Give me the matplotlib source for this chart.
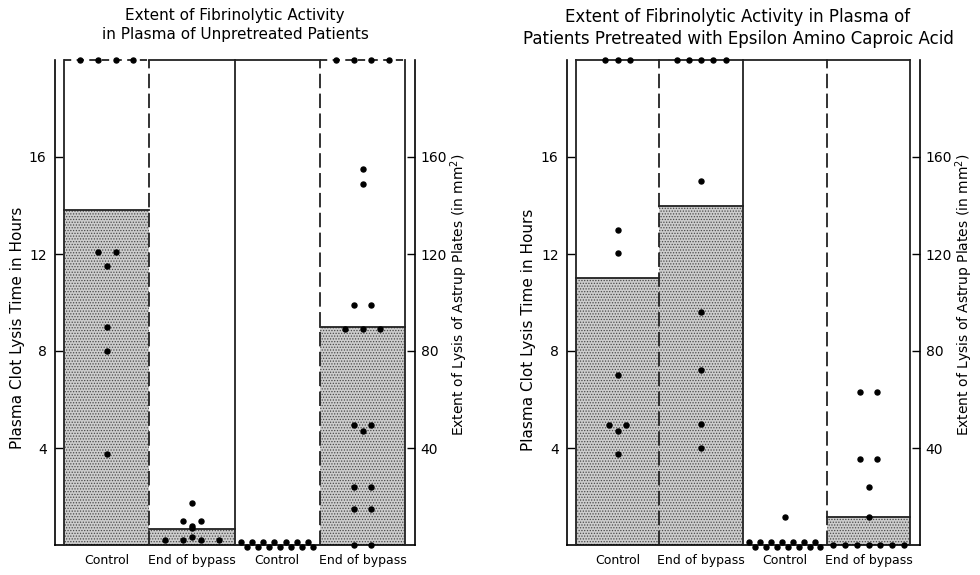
import numpy as np
import matplotlib.pyplot as plt
from matplotlib.patches import Rectangle

plt.rcParams['font.family'] = ['DejaVu Sans']
plt.rcParams['hatch.linewidth'] = 0.6

# columns of each panel (first two: clot lysis time in hours, last two: lysis area in mm2)
columns = ['Control', 'End of bypass', 'Control', 'End of bypass']
SCALE = 10  # 10 mm2 of lysis on the right axis = 1 hour on the left axis

# unpretreated patients
unpre_bars = [13.8, 0.66, 0, 90]
unpre_ctrl_time = [12.1, 12.1, 11.5, 9.0, 8.0, 3.75]
unpre_bypass_time = [1.75, 1.0, 1.0, 0.8, 0.7, 0.35, 0.2, 0.2, 0.2, 0.2]
unpre_ctrl_lysis = [0] * 14
unpre_bypass_lysis = [155, 149, 99, 99, 89, 89, 89, 49.5, 49.5, 47, 24, 24, 15, 15, 0, 0]
unpre_off_scale = [4, 0, 0, 4]   # dots beyond the top of the scale

# patients pretreated with epsilon amino caproic acid
eaca_bars = [11.0, 14.0, 0, 11.5]
eaca_ctrl_time = [13.0, 12.05, 7.0, 4.95, 4.95, 4.7, 3.75]
eaca_bypass_time = [15.0, 9.6, 7.2, 5.0, 4.0]
eaca_ctrl_lysis = [11.5] + [0] * 14
eaca_bypass_lysis = [63, 63, 35.5, 35.5, 24, 11.5, 0, 0, 0, 0, 0, 0, 0]
eaca_off_scale = [3, 5, 0, 0]

left_ticks = [4, 8, 12, 16]
right_ticks = [40, 80, 120, 160]


def spread(n, step=0.21):
    # side by side placement of equal values
    if n == 1:
        return np.zeros(1), np.zeros(1)
    if n > 4:
        step = min(step, 0.6 / (n - 1))
    if n > 6:
        step = 0.85 / (n - 1)
    xs = (np.arange(n) - (n - 1) / 2) * step
    ys = np.zeros(n)
    if n > 8:
        ys = np.where(np.arange(n) % 2 == 0, 0.12, -0.1)
    return xs, ys


def draw_panel(ax, bars, groups, off_scale, top_dashed, top_step):
    ax.set_xlim(-0.105, 4.115)
    ax.set_ylim(0, 20)

    for i, h in enumerate(bars):
        h = h / SCALE if i >= 2 else h
        if h > 0:
            ax.add_patch(Rectangle((i, 0), 1, h, facecolor='#cdcdcd', edgecolor='#4a4a4a',
                                   hatch='......', lw=0, zorder=1))
            ax.plot([i, i + 1], [h, h], color='#222222', lw=1.3, zorder=2)

    # column borders
    for x, style in zip(range(5), ['-', '--', '-', '--', '-']):
        if style == '-':
            ax.plot([x, x], [0, 20], color='#222222', lw=1.3, zorder=3, clip_on=False)
        else:
            ax.plot([x, x], [0, 20], color='#222222', lw=1.3, dashes=(8, 3), zorder=3, clip_on=False)
    for i in range(4):
        if top_dashed[i]:
            ax.plot([i, i + 1], [20, 20], color='#222222', lw=1.3, dashes=(4, 3), zorder=3, clip_on=False)
        else:
            ax.plot([i, i + 1], [20, 20], color='#222222', lw=1.3, zorder=3, clip_on=False)

    for i, vals in enumerate(groups):
        vals = np.asarray(vals, float) / (SCALE if i >= 2 else 1)
        for v in np.unique(vals):
            xs, ys = spread(int(np.sum(vals == v)))
            ax.plot(i + 0.5 + xs, v + ys, 'o', ms=3.6, color='black', clip_on=False, zorder=5)
        if off_scale[i]:
            xs, ys = spread(off_scale[i], top_step)
            ax.plot(i + 0.5 + xs, np.full(len(xs), 20.0), 'o', ms=3.6, color='black',
                    clip_on=False, zorder=5)

    for i, lab in enumerate(columns):
        ax.text(i + 0.5, -0.62, lab, ha='center', va='center', fontsize=9)

    ax.spines['top'].set_visible(False)
    ax.spines['right'].set_visible(False)
    for s in ['left', 'bottom']:
        ax.spines[s].set_linewidth(1.2)
    ax.set_xticks([])
    ax.set_yticks(left_ticks)
    ax.set_yticklabels([str(t) for t in left_ticks])
    ax.tick_params(axis='y', direction='in', length=6, width=1, labelsize=10, pad=6)

    sec = ax.secondary_yaxis('right', functions=(lambda y: y * SCALE, lambda y: y / SCALE))
    sec.set_yticks(right_ticks)
    sec.set_yticklabels([str(t) for t in right_ticks])
    sec.tick_params(direction='in', length=6, width=1, labelsize=10, pad=4)
    sec.spines['right'].set_linewidth(1.2)


fig = plt.figure(figsize=(9.8, 5.75), dpi=100)
ax1 = fig.add_axes([55 / 980, 1 - 545 / 575, 360 / 980, 485 / 575])
ax2 = fig.add_axes([567 / 980, 1 - 545 / 575, 353 / 980, 485 / 575])

draw_panel(ax1, unpre_bars,
           [unpre_ctrl_time, unpre_bypass_time, unpre_ctrl_lysis, unpre_bypass_lysis],
           unpre_off_scale, [True, False, False, True], 0.21)
draw_panel(ax2, eaca_bars,
           [eaca_ctrl_time, eaca_bypass_time, eaca_ctrl_lysis, eaca_bypass_lysis],
           eaca_off_scale, [False, False, False, False], 0.145)

fig.text(235 / 980, 1 - 25 / 575,
         'Extent of Fibrinolytic Activity\nin Plasma of Unpretreated Patients',
         ha='center', va='center', fontsize=11, linespacing=1.3)
fig.text(738 / 980, 1 - 28 / 575,
         'Extent of Fibrinolytic Activity in Plasma of\nPatients Pretreated with Epsilon Amino Caproic Acid',
         ha='center', va='center', fontsize=12, linespacing=1.25)

ylab = 'Plasma Clot Lysis Time in Hours'
rlab = 'Extent of Lysis of Astrup Plates (in mm$^2$)'
fig.text(18 / 980, 1 - 328 / 575, ylab, rotation=90, ha='center', va='center', fontsize=11)
fig.text(459 / 980, 1 - 295 / 575, rlab, rotation=90, ha='center', va='center', fontsize=10)
fig.text(528 / 980, 1 - 330 / 575, ylab, rotation=90, ha='center', va='center', fontsize=11)
fig.text(964 / 980, 1 - 295 / 575, rlab, rotation=90, ha='center', va='center', fontsize=10)

fig.savefig('out.png', dpi=100)
